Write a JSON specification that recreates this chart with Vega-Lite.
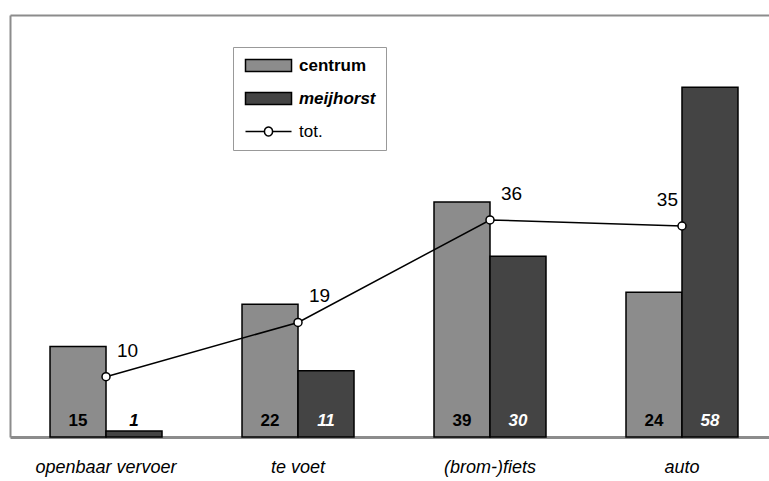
{
  "$schema": "https://vega.github.io/schema/vega-lite/v6.json",
  "width": 759,
  "height": 422,
  "autosize": {"type": "none"},
  "padding": {"left": 10, "top": 15, "right": 0, "bottom": 44},
  "background": "white",
  "config": {
    "view": {"stroke": null},
    "font": "Liberation Sans"
  },
  "datasets": {
    "modes": [
      {"mode": "openbaar vervoer", "series": "centrum", "share": 15},
      {"mode": "openbaar vervoer", "series": "meijhorst", "share": 1},
      {"mode": "te voet", "series": "centrum", "share": 22},
      {"mode": "te voet", "series": "meijhorst", "share": 11},
      {"mode": "(brom-)fiets", "series": "centrum", "share": 39},
      {"mode": "(brom-)fiets", "series": "meijhorst", "share": 30},
      {"mode": "auto", "series": "centrum", "share": 24},
      {"mode": "auto", "series": "meijhorst", "share": 58}
    ],
    "totals": [
      {"mode": "openbaar vervoer", "total": 10},
      {"mode": "te voet", "total": 19},
      {"mode": "(brom-)fiets", "total": 36},
      {"mode": "auto", "total": 35}
    ]
  },
  "encoding": {
    "x": {
      "field": "mode",
      "type": "nominal",
      "sort": ["openbaar vervoer", "te voet", "(brom-)fiets", "auto"],
      "scale": {"paddingInner": 0.4167, "paddingOuter": 0.185, "align": 0.5634},
      "axis": {
        "title": null,
        "labelAngle": 0,
        "ticks": false,
        "domainColor": "#8c8c8c",
        "domainWidth": 3,
        "labelFont": "Liberation Sans",
        "labelFontSize": 18,
        "labelFontStyle": "italic",
        "labelColor": "black",
        "labelPadding": 21
      }
    }
  },
  "layer": [
    {
      "data": {"name": "modes"},
      "mark": {"type": "bar", "stroke": "black", "strokeWidth": 1.5},
      "encoding": {
        "xOffset": {"field": "series", "type": "nominal", "sort": ["centrum", "meijhorst"], "scale": {"paddingInner": 0, "paddingOuter": 0}},
        "y": {
          "field": "share",
          "type": "quantitative",
          "scale": {"domain": [0, 70], "nice": false},
          "axis": {
            "values": [70],
            "grid": true,
            "gridColor": "#8c8c8c",
            "gridWidth": 2,
            "gridOpacity": 1,
            "ticks": false,
            "labels": false,
            "title": null,
            "domainColor": "#8c8c8c",
            "domainWidth": 2
          }
        },
        "fill": {
          "field": "series",
          "type": "nominal",
          "scale": {"domain": ["centrum", "meijhorst", "tot."], "range": ["#8c8c8c", "#444444", "white"]},
          "legend": {
            "title": null,
            "orient": "none",
            "legendX": 223,
            "legendY": 32,
            "padding": 10,
            "strokeColor": "#999999",
            "fillColor": "white",
            "labelFont": "Liberation Sans",
            "labelFontSize": 17,
            "labelColor": "black",
            "labelOffset": 39,
            "rowPadding": 14,
            "symbolSize": 144,
            "symbolStrokeColor": "black",
            "symbolStrokeWidth": 1.5,
            "encode": {
              "symbols": {
                "update": {
                  "shape": {"signal": "datum.value === 'tot.' ? 'M-1,0H2.17M3.5,0H6.67M2.17,0A0.67,0.67 0 1,0 3.5,0A0.67,0.67 0 1,0 2.17,0' : 'M-1,-1H6.67V1H-1Z'"}
                }
              },
              "labels": {
                "update": {
                  "fontWeight": {"signal": "datum.value === 'tot.' ? 'normal' : 'bold'"},
                  "fontStyle": {"signal": "datum.value === 'meijhorst' ? 'italic' : 'normal'"}
                }
              }
            }
          }
        }
      }
    },
    {
      "data": {"name": "modes"},
      "transform": [{"filter": "datum.series === 'centrum'"}],
      "mark": {"type": "text", "fontSize": 17, "fontWeight": "bold", "baseline": "middle", "dy": -16, "color": "black"},
      "encoding": {
        "xOffset": {"field": "series", "type": "nominal", "sort": ["centrum", "meijhorst"]},
        "y": {"datum": 0, "type": "quantitative"},
        "text": {"field": "share", "type": "quantitative"}
      }
    },
    {
      "data": {"name": "modes"},
      "transform": [{"filter": "datum.series === 'meijhorst'"}],
      "mark": {"type": "text", "fontSize": 17, "fontWeight": "bold", "fontStyle": "italic", "baseline": "middle", "dy": -16},
      "encoding": {
        "xOffset": {"field": "series", "type": "nominal", "sort": ["centrum", "meijhorst"]},
        "y": {"datum": 0, "type": "quantitative"},
        "text": {"field": "share", "type": "quantitative"},
        "color": {"condition": {"test": "datum.share < 5", "value": "black"}, "value": "white"}
      }
    },
    {
      "data": {"name": "totals"},
      "mark": {"type": "line", "color": "black", "strokeWidth": 1.5},
      "encoding": {
        "y": {"field": "total", "type": "quantitative"}
      }
    },
    {
      "data": {"name": "totals"},
      "mark": {"type": "point", "filled": true, "fill": "white", "stroke": "black", "strokeWidth": 1.5, "size": 64, "opacity": 1},
      "encoding": {
        "y": {"field": "total", "type": "quantitative"}
      }
    },
    {
      "data": {"name": "totals"},
      "transform": [{"filter": "datum.mode !== 'auto'"}],
      "mark": {"type": "text", "fontSize": 19, "align": "left", "baseline": "middle", "dx": 11, "dy": -26, "color": "black"},
      "encoding": {
        "y": {"field": "total", "type": "quantitative"},
        "text": {"field": "total", "type": "quantitative"}
      }
    },
    {
      "data": {"name": "totals"},
      "transform": [{"filter": "datum.mode === 'auto'"}],
      "mark": {"type": "text", "fontSize": 19, "align": "right", "baseline": "middle", "dx": -4, "dy": -26, "color": "black"},
      "encoding": {
        "y": {"field": "total", "type": "quantitative"},
        "text": {"field": "total", "type": "quantitative"}
      }
    }
  ]
}
